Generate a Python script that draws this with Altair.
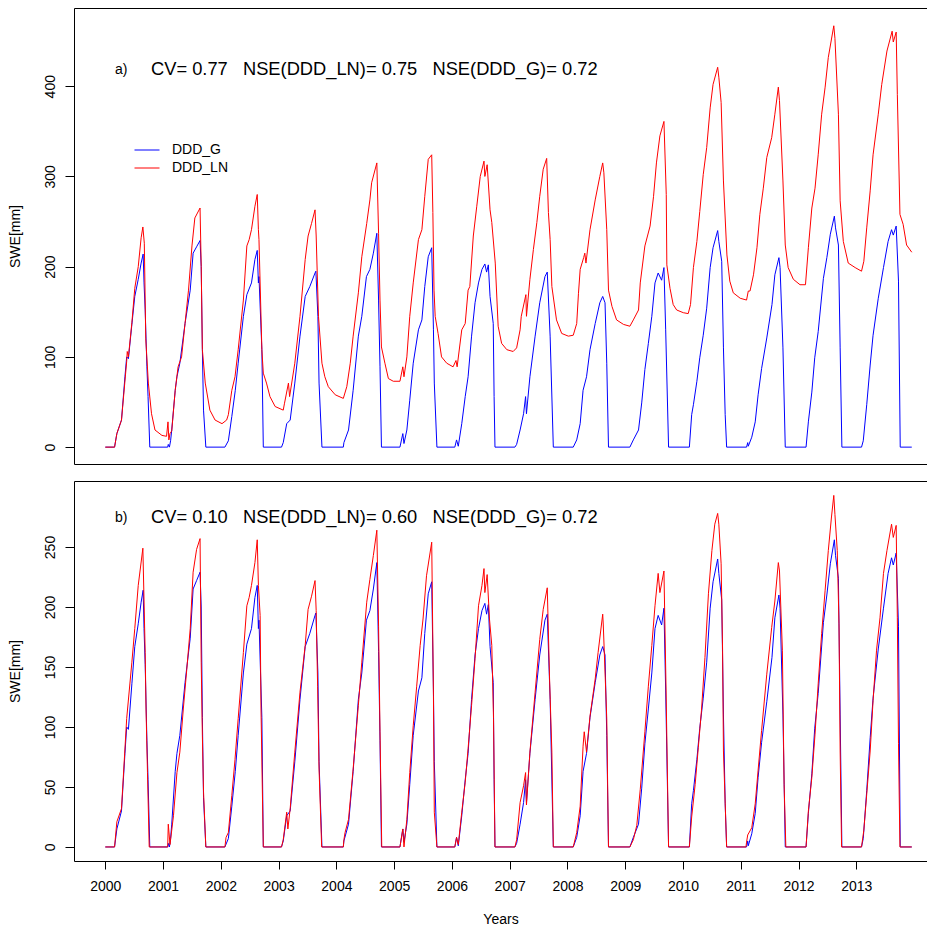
import altair as alt
import pandas as pd

# ---------------- data (decimal years, SWE in mm) ----------------
SERIES = ["DDD_G", "DDD_LN"]
COLORS = ["#0000FF", "#FF0000"]
YEARS = list(range(2000, 2014))

# DDD_G (same in both panels)
G_t = [2000.00, 2000.16, 2000.20, 2000.28, 2000.34, 2000.37, 2000.40, 2000.46, 2000.51, 2000.57, 2000.62, 2000.655, 2000.67, 2000.69, 2000.72, 2000.74, 2000.77,
       2001.08, 2001.09, 2001.11, 2001.13, 2001.15, 2001.21, 2001.24, 2001.29, 2001.38, 2001.47, 2001.52, 2001.58, 2001.64, 2001.66, 2001.68, 2001.70, 2001.74,
       2002.07, 2002.13, 2002.19, 2002.25, 2002.30, 2002.39, 2002.45, 2002.53, 2002.59, 2002.63, 2002.65, 2002.66, 2002.71, 2002.735,
       2003.05, 2003.08, 2003.14, 2003.20, 2003.28, 2003.37, 2003.46, 2003.54, 2003.63, 2003.645, 2003.68, 2003.70, 2003.75,
       2004.12, 2004.13, 2004.21, 2004.29, 2004.38, 2004.44, 2004.52, 2004.58, 2004.64, 2004.70, 2004.73, 2004.755, 2004.78,
       2005.10, 2005.15, 2005.17, 2005.22, 2005.27, 2005.33, 2005.42, 2005.48, 2005.53, 2005.59, 2005.65, 2005.68, 2005.695, 2005.74,
       2006.05, 2006.08, 2006.11, 2006.17, 2006.23, 2006.28, 2006.34, 2006.40, 2006.46, 2006.52, 2006.57, 2006.60, 2006.63, 2006.66, 2006.715, 2006.73, 2006.745,
       2007.09, 2007.12, 2007.18, 2007.24, 2007.275, 2007.29, 2007.35, 2007.44, 2007.52, 2007.61, 2007.65, 2007.70, 2007.755,
       2008.10, 2008.16, 2008.22, 2008.27, 2008.33, 2008.39, 2008.48, 2008.56, 2008.61, 2008.65, 2008.68, 2008.71,
       2009.08, 2009.14, 2009.23, 2009.285, 2009.34, 2009.40, 2009.46, 2009.515, 2009.57, 2009.63, 2009.67, 2009.70, 2009.75,
       2010.11, 2010.15, 2010.18, 2010.24, 2010.29, 2010.35, 2010.41, 2010.47, 2010.52, 2010.60, 2010.62, 2010.67, 2010.70, 2010.73, 2010.755,
       2011.10, 2011.12, 2011.13, 2011.19, 2011.25, 2011.30, 2011.36, 2011.45, 2011.54, 2011.59, 2011.66, 2011.68, 2011.73, 2011.77,
       2012.13, 2012.17, 2012.23, 2012.28, 2012.34, 2012.43, 2012.49, 2012.55, 2012.62, 2012.64, 2012.69, 2012.72, 2012.75,
       2013.09, 2013.12, 2013.18, 2013.24, 2013.29, 2013.38, 2013.47, 2013.55, 2013.61, 2013.64, 2013.69, 2013.73, 2013.76, 2013.96]
G_v = [0, 0, 15, 30, 78, 100, 98, 136, 167, 186, 204, 214, 182, 152, 89, 56, 0,
       0, 3, 0, 7, 19, 63, 78, 93, 137, 174, 215, 222, 229, 200, 108, 41, 0,
       0, 7, 34, 63, 93, 145, 169, 182, 208, 218, 182, 189, 108, 0,
       0, 5, 26, 30, 71, 123, 167, 178, 193, 195, 145, 71, 0,
       0, 5, 19, 63, 123, 145, 189, 197, 215, 237, 163, 89, 0,
       0, 15, 4, 19, 52, 93, 130, 141, 178, 211, 221, 130, 71, 0,
       0, 8, 1, 26, 56, 78, 123, 160, 182, 197, 203, 194, 202, 167, 137, 56, 0,
       0, 3, 19, 37, 56, 37, 78, 123, 160, 189, 194, 123, 0,
       0, 8, 26, 63, 78, 108, 137, 160, 167, 160, 93, 0,
       0, 8, 19, 49, 86, 115, 145, 182, 193, 185, 199, 130, 0,
       0, 36, 47, 73, 99, 124, 154, 199, 221, 240, 228, 206, 110, 36, 0,
       0, 5, 1, 11, 28, 58, 87, 121, 158, 191, 210, 199, 110, 0,
       0, 28, 61, 99, 128, 187, 210, 236, 256, 243, 224, 110, 0,
       0, 7, 47, 91, 124, 165, 199, 228, 241, 235, 245, 184, 0, 0]

# DDD_LN, panel a (CV = 0.77)
LNa_t = [2000.00, 2000.16, 2000.20, 2000.28, 2000.37, 2000.38, 2000.40, 2000.46, 2000.51, 2000.57, 2000.62, 2000.65, 2000.675, 2000.70, 2000.745, 2000.80, 2000.86, 2000.98, 2001.06, 2001.085, 2001.10, 2001.12,
         2001.15, 2001.21, 2001.26, 2001.32, 2001.38, 2001.44, 2001.50, 2001.55, 2001.64, 2001.66, 2001.68, 2001.73, 2001.81, 2001.90, 2002.02, 2002.10, 2002.13,
         2002.19, 2002.245, 2002.30, 2002.39, 2002.45, 2002.49, 2002.53, 2002.59, 2002.63, 2002.65, 2002.66, 2002.71, 2002.735, 2002.79, 2002.85, 2002.94, 2003.08, 2003.10, 2003.17, 2003.19,
         2003.28, 2003.37, 2003.46, 2003.51, 2003.57, 2003.63, 2003.65, 2003.69, 2003.75, 2003.80, 2003.86, 2003.98, 2004.12, 2004.18,
         2004.24, 2004.29, 2004.38, 2004.44, 2004.525, 2004.58, 2004.61, 2004.70, 2004.73, 2004.755, 2004.78, 2004.84, 2004.90, 2004.985, 2005.10, 2005.15, 2005.17,
         2005.22, 2005.27, 2005.33, 2005.42, 2005.48, 2005.53, 2005.59, 2005.65, 2005.67, 2005.69, 2005.71, 2005.76, 2005.82, 2005.91, 2006.02, 2006.07, 2006.09, 2006.17,
         2006.23, 2006.28, 2006.31, 2006.37, 2006.43, 2006.49, 2006.555, 2006.57, 2006.61, 2006.66, 2006.69, 2006.75, 2006.80, 2006.86, 2006.95, 2007.06, 2007.12, 2007.18, 2007.20, 2007.28, 2007.29,
         2007.35, 2007.41, 2007.47, 2007.52, 2007.58, 2007.64, 2007.67, 2007.70, 2007.73, 2007.81, 2007.90, 2008.015, 2008.10, 2008.16,
         2008.19, 2008.22, 2008.28, 2008.30, 2008.32, 2008.39, 2008.48, 2008.56, 2008.61, 2008.63, 2008.68, 2008.71, 2008.77, 2008.85, 2008.97, 2009.08, 2009.14, 2009.23,
         2009.26, 2009.34, 2009.43, 2009.49, 2009.54, 2009.60, 2009.67, 2009.71, 2009.72, 2009.775, 2009.83, 2009.89, 2010.005, 2010.09, 2010.13,
         2010.18, 2010.24, 2010.29, 2010.35, 2010.41, 2010.47, 2010.52, 2010.60, 2010.62, 2010.66, 2010.70, 2010.76, 2010.81, 2010.87, 2010.99, 2011.10, 2011.13, 2011.16, 2011.22,
         2011.28, 2011.33, 2011.39, 2011.45, 2011.535, 2011.59, 2011.65, 2011.67, 2011.73, 2011.77, 2011.82, 2011.91, 2012.025, 2012.12, 2012.17,
         2012.23, 2012.285, 2012.34, 2012.40, 2012.46, 2012.515, 2012.61, 2012.63, 2012.69, 2012.72, 2012.775, 2012.86, 2012.98, 2013.09, 2013.13,
         2013.18, 2013.24, 2013.29, 2013.38, 2013.44, 2013.53, 2013.62, 2013.64, 2013.69, 2013.71, 2013.755, 2013.81, 2013.87, 2013.96]
LNa_v = [0, 0, 15, 30, 95, 106, 100, 138, 176, 200, 232, 244, 226, 120, 71, 37, 19, 13, 12, 28, 8, 15,
         18, 63, 89, 100, 137, 174, 223, 254, 265, 200, 108, 71, 41, 30, 26, 30, 36,
         63, 78, 108, 163, 223, 230, 241, 267, 280, 241, 230, 108, 82, 71, 56, 45, 41, 48, 71, 56,
         93, 145, 208, 234, 248, 263, 234, 145, 93, 78, 67, 58, 54, 67,
         93, 123, 171, 211, 248, 274, 293, 315, 237, 163, 111, 93, 76, 73, 73, 89, 78,
         100, 145, 182, 230, 241, 278, 319, 324, 260, 174, 145, 126, 100, 93, 89, 96, 89, 130,
         137, 174, 178, 234, 267, 300, 317, 300, 313, 263, 249, 204, 134, 115, 108, 106, 110, 130, 145, 169, 145,
         186, 219, 249, 278, 308, 320, 260, 230, 178, 141, 126, 123, 124, 137,
         170, 197, 210, 215, 204, 241, 274, 300, 315, 304, 241, 174, 156, 141, 136, 134, 141, 152,
         182, 223, 245, 278, 315, 345, 361, 280, 202, 176, 158, 152, 149, 148, 158,
         199, 228, 261, 302, 332, 376, 402, 421, 410, 382, 295, 213, 184, 171, 165, 163, 173, 173, 191,
         221, 258, 287, 321, 343, 369, 399, 384, 295, 224, 199, 186, 180, 180, 221,
         265, 287, 324, 369, 399, 432, 467, 453, 369, 273, 228, 204, 199, 195, 206,
         243, 284, 324, 369, 402, 439, 461, 449, 460, 391, 258, 247, 224, 216]

# DDD_LN, panel b (CV = 0.10)
LNb_t = [2000.00, 2000.16, 2000.20, 2000.28, 2000.37, 2000.46, 2000.51, 2000.57, 2000.65, 2000.69, 2000.705, 2000.73, 2000.76,
         2001.08, 2001.09, 2001.12, 2001.18, 2001.24, 2001.29, 2001.35, 2001.41, 2001.47, 2001.52, 2001.58, 2001.64, 2001.66, 2001.68, 2001.70, 2001.74,
         2002.07, 2002.09, 2002.13, 2002.19, 2002.245, 2002.30, 2002.39, 2002.45, 2002.49, 2002.53, 2002.59, 2002.63, 2002.65, 2002.68, 2002.695, 2002.735,
         2003.05, 2003.08, 2003.14, 2003.16, 2003.20, 2003.28, 2003.37, 2003.46, 2003.51, 2003.57, 2003.63, 2003.65, 2003.675, 2003.70, 2003.745,
         2004.12, 2004.13, 2004.15, 2004.21, 2004.29, 2004.38, 2004.44, 2004.525, 2004.58, 2004.64, 2004.70, 2004.73, 2004.755, 2004.785,
         2005.10, 2005.15, 2005.17, 2005.22, 2005.27, 2005.33, 2005.39, 2005.45, 2005.50, 2005.56, 2005.65, 2005.68, 2005.695, 2005.74,
         2006.05, 2006.08, 2006.11, 2006.17, 2006.23, 2006.28, 2006.34, 2006.40, 2006.46, 2006.52, 2006.555, 2006.57, 2006.61, 2006.65, 2006.69, 2006.72, 2006.745,
         2007.09, 2007.12, 2007.18, 2007.24, 2007.275, 2007.29, 2007.35, 2007.44, 2007.52, 2007.58, 2007.65, 2007.69, 2007.73, 2007.755,
         2008.10, 2008.16, 2008.22, 2008.27, 2008.29, 2008.33, 2008.39, 2008.48, 2008.53, 2008.61, 2008.62, 2008.68, 2008.71,
         2009.08, 2009.14, 2009.20, 2009.26, 2009.34, 2009.40, 2009.46, 2009.515, 2009.57, 2009.60, 2009.67, 2009.705, 2009.75,
         2010.11, 2010.15, 2010.21, 2010.265, 2010.32, 2010.38, 2010.44, 2010.50, 2010.55, 2010.60, 2010.62, 2010.66, 2010.685, 2010.70, 2010.755,
         2011.09, 2011.10, 2011.12, 2011.19, 2011.25, 2011.30, 2011.36, 2011.45, 2011.535, 2011.59, 2011.65, 2011.67, 2011.72, 2011.75, 2011.78,
         2012.13, 2012.17, 2012.23, 2012.285, 2012.34, 2012.40, 2012.46, 2012.515, 2012.57, 2012.61, 2012.63, 2012.67, 2012.70, 2012.72, 2012.745,
         2013.09, 2013.13, 2013.18, 2013.24, 2013.29, 2013.35, 2013.41, 2013.47, 2013.53, 2013.61, 2013.64, 2013.69, 2013.71, 2013.73, 2013.755, 2013.96]
LNb_v = [0, 0, 21, 32, 107, 154, 182, 218, 249, 162, 115, 62, 0,
         0, 19, 2, 26, 62, 79, 115, 148, 182, 229, 248, 257, 154, 93, 46, 0,
         0, 8, 12, 43, 73, 107, 162, 201, 208, 218, 237, 256, 218, 193, 115, 0,
         0, 6, 29, 15, 32, 79, 129, 168, 198, 209, 222, 197, 134, 65, 0,
         0, 6, 12, 23, 65, 118, 154, 204, 223, 243, 264, 184, 96, 0,
         0, 15, 0, 23, 62, 101, 134, 168, 190, 226, 254, 126, 29, 0,
         0, 8, 2, 29, 54, 82, 118, 157, 201, 218, 232, 212, 227, 190, 168, 107, 0,
         0, 6, 37, 51, 62, 35, 79, 129, 173, 198, 216, 140, 79, 0,
         0, 12, 34, 84, 96, 79, 109, 140, 162, 194, 185, 107, 0,
         0, 6, 18, 48, 96, 134, 168, 201, 228, 212, 230, 135, 0,
         0, 25, 52, 83, 114, 158, 211, 247, 269, 278, 269, 236, 164, 80, 0,
         0, 4, 10, 16, 36, 64, 97, 144, 183, 205, 237, 230, 164, 52, 0,
         0, 30, 58, 94, 136, 178, 214, 247, 275, 293, 277, 247, 186, 80, 0,
         0, 14, 44, 80, 122, 164, 191, 228, 247, 269, 258, 268, 191, 86, 0, 0]

TOP_TICKS = [0, 100, 200, 300, 400]
BOT_TICKS = [0, 50, 100, 150, 200, 250]
LABEL_A = "a)"
LABEL_B = "b)"
STATS_A = "CV= 0.77\u00a0\u00a0\u00a0NSE(DDD_LN)= 0.75\u00a0\u00a0\u00a0NSE(DDD_G)= 0.72"
STATS_B = "CV= 0.10\u00a0\u00a0\u00a0NSE(DDD_LN)= 0.60\u00a0\u00a0\u00a0NSE(DDD_G)= 0.72"

# ---------------- chart ----------------
FONT = "Liberation Sans"
W = 853
H_TOP = 456
H_BOT = 380
X_DOM = [1999.458, 1999.458 + W / 57.77]

g_df = pd.DataFrame({"year": G_t, "swe": G_v, "series": "DDD_G"})
lna_df = pd.DataFrame({"year": LNa_t, "swe": LNa_v, "series": "DDD_LN"})
lnb_df = pd.DataFrame({"year": LNb_t, "swe": LNb_v, "series": "DDD_LN"})

color_scale = alt.Scale(domain=SERIES, range=COLORS)
BOX = dict(domain=True, domainColor="#000", domainWidth=1, grid=False)


def y_axis(ticks, h):
    return alt.Axis(values=ticks, title="SWE[mm]", labelAngle=270, labelAlign="center",
                    labelBaseline="bottom", labelFontSize=14, labelPadding=8, tickSize=9,
                    tickColor="#000", labelColor="#000",
                    titleFontSize=14, titleFontWeight="normal", titleColor="#000",
                    titleAngle=270, titleX=-58.5, titleY=h / 2, titleBaseline="middle",
                    titleAlign="center", **BOX)


def panel(ln_df, ydom, ticks, h, show_x, legend, label, stats, stats_y):
    if show_x:
        xaxis = alt.Axis(values=YEARS, format="d", title="Years", labelFontSize=14,
                         tickSize=8, labelPadding=10, tickColor="#000", labelColor="#000",
                         titleFontSize=14, titleFontWeight="normal",
                         titleColor="#000", titlePadding=19, **BOX)
    else:
        xaxis = alt.Axis(labels=False, ticks=False, title=None, **BOX)
    xtop = alt.Axis(orient="top", labels=False, ticks=False, title=None, **BOX)
    xs = alt.Scale(domain=X_DOM, nice=False, zero=False)
    y = alt.Y("swe:Q", scale=alt.Scale(domain=ydom, nice=False, zero=False), axis=y_axis(ticks, h))
    col = alt.Color("series:N", scale=color_scale, legend=legend)
    blue = alt.Chart(g_df).mark_line(strokeWidth=1, interpolate="linear").encode(
        x=alt.X("year:Q", scale=xs, axis=xaxis), y=y, color=col)
    red = alt.Chart(ln_df).mark_line(strokeWidth=1, interpolate="linear").encode(
        x=alt.X("year:Q", scale=xs, axis=xtop), y=y, color=col)
    lab = alt.Chart(pd.DataFrame({"t": [label]})).mark_text(
        align="left", baseline="alphabetic", fontSize=14, font=FONT, color="#000"
    ).encode(text="t:N", x=alt.value(41), y=alt.value(stats_y - 1))
    st = alt.Chart(pd.DataFrame({"t": [stats]})).mark_text(
        align="left", baseline="alphabetic", fontSize=18.3, font=FONT, color="#000"
    ).encode(text="t:N", x=alt.value(77), y=alt.value(stats_y))
    return alt.layer(blue, red, lab, st).resolve_axis(x="independent").properties(width=W, height=h)


legend_a = alt.Legend(orient="none", legendX=60, legendY=133, title=None, symbolType="stroke",
                      symbolSize=625, symbolStrokeWidth=1, labelFontSize=14, labelFont=FONT,
                      labelColor="#000", labelOffset=12, padding=0, rowPadding=0, clipHeight=18)

top = panel(lna_df, [-18.7, 486.7], TOP_TICKS, H_TOP, False, legend_a, LABEL_A, STATS_A, 67)
bot = panel(lnb_df, [-11.7, 305], BOT_TICKS, H_BOT, True, None, LABEL_B, STATS_B, 42)

chart = alt.vconcat(top, bot, spacing=17).resolve_scale(
    x="independent", y="independent", color="independent"
).configure(font=FONT, padding=0).configure_view(stroke=None)

chart.save("out.html", embed_options={"renderer": "svg", "actions": False})
